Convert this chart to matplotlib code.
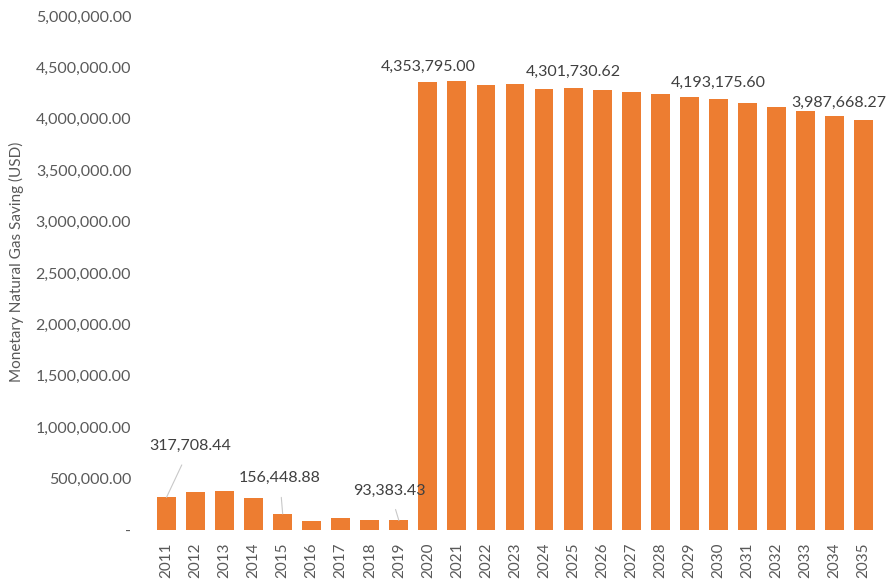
import matplotlib
matplotlib.use("Agg")
import matplotlib.pyplot as plt
from matplotlib.ticker import FuncFormatter, MultipleLocator

plt.rcParams['font.family'] = ['Lato', 'DejaVu Sans']

years = [str(y) for y in range(2011, 2036)]
savings = [
    317708.44, 365000, 375000, 312000, 156448.88, 92000, 112000, 100000, 93383.43,
    4353795.00, 4368000, 4326000, 4338000, 4290000, 4301730.62, 4280000, 4264000,
    4241000, 4215000, 4193175.60, 4154000, 4112000, 4073000, 4030000, 3987668.27,
]

# labelled bars: (year, x offset px, y offset px, leader line)
labelled = [
    ("2011", 24, 51, True),
    ("2015", -3, 36, True),
    ("2019", -9, 30, True),
    ("2020", 0, 16, False),
    ("2025", 0, 16, False),
    ("2030", 0, 16, False),
    ("2035", -25, 17, False),
]

bar_color = "#ED7D31"
tick_color = "#595959"
label_color = "#404040"

fig = plt.figure(figsize=(8.93, 5.84), dpi=100)
ax = fig.add_axes([152 / 893, 1 - 530 / 584, 726 / 893, 514 / 584])

x = list(range(len(years)))
ax.bar(x, savings, width=0.65, color=bar_color, zorder=2)

ax.set_xlim(-0.5, len(years) - 0.5)
ax.set_ylim(0, 5_000_000)
ax.yaxis.set_major_locator(MultipleLocator(500_000))


def money(v, _pos):
    if abs(v) < 1e-6:
        return "-"
    return f"{v:,.2f}"


ax.yaxis.set_major_formatter(FuncFormatter(money))
ax.set_xticks(x)
ax.set_xticklabels(years, rotation=90)
ax.tick_params(axis="y", length=0, pad=15, labelsize=11.5, colors=tick_color)
ax.tick_params(axis="x", length=0, pad=9, labelsize=11, colors=tick_color)
for s in ax.spines.values():
    s.set_visible(False)

fig.text(16 / 893, 1 - 262 / 584, "Monetary Natural Gas Saving (USD)",
         rotation=90, ha="center", va="center", fontsize=11, color=tick_color)

for yr, dx, dy, leader in labelled:
    i = years.index(yr)
    v = savings[i]
    ax.annotate(
        f"{v:,.2f}", xy=(i, v), xytext=(dx, dy), textcoords="offset pixels",
        ha="center", va="center", fontsize=11.5, color=label_color,
        arrowprops=dict(arrowstyle="-", color="#c8c8c8", lw=0.8,
                        shrinkA=7, shrinkB=0) if leader else None,
        zorder=3,
    )

fig.savefig("out.png", dpi=100)
